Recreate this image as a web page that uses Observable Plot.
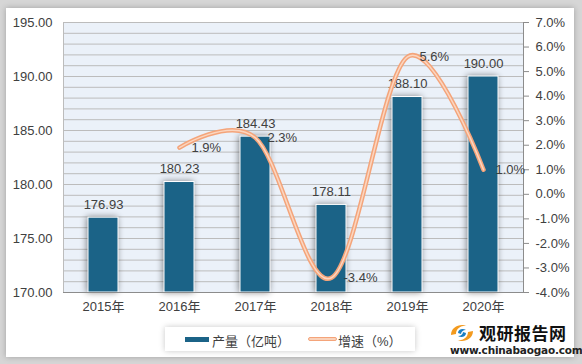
<!DOCTYPE html>
<html>
<head>
<meta charset="utf-8">
<script src="https://cdn.jsdelivr.net/npm/d3@7"></script>
<script src="https://cdn.jsdelivr.net/npm/@observablehq/plot@0.6"></script>
<style>
  html, body { margin: 0; padding: 0; }
  body { width: 582px; height: 364px; overflow: hidden; background: #d6d6d6; font-family: "Liberation Sans", "Noto Sans CJK SC", sans-serif; }
  #wrap { position: relative; width: 582px; height: 364px; }
  #card { position: absolute; left: 6px; top: 8px; width: 568px; height: 349px; background: #fff; box-shadow: 0 0 6px rgba(0,0,0,0.25); }
  .layer { position: absolute; left: 0; top: 0; }
  .layer svg { display: block; background: transparent; }
  .bars rect { filter: drop-shadow(-1px 0px 3px rgba(0,0,0,0.45)); }
  #legend { position: absolute; left: 165px; top: 327px; width: 250px; height: 24px; background: #fff; box-shadow: 0 0 6px rgba(0,0,0,0.22); font-size: 13px; color: #404040; }
  .sw-bar { position: absolute; left: 20px; top: 10px; width: 24px; height: 5px; background: #1b6387; }
  .sw-line { position: absolute; left: 143px; top: 10px; width: 29px; height: 4px; background: #fad2ba; border: 1px solid #f4a47a; border-radius: 3px; box-sizing: border-box; }
  .lt1 { position: absolute; left: 47px; top: 4px; }
  .lt2 { position: absolute; left: 173px; top: 4px; }
  #logo { position: absolute; left: 448px; top: 320px; width: 120px; height: 40px; }
  #logo .name { position: absolute; left: 31px; top: 0px; font-size: 17px; font-weight: bold; color: #111; letter-spacing: 0.5px; font-family: "Noto Sans CJK SC", sans-serif; }
  #logo .url { position: absolute; left: 2px; top: 24px; font-size: 10.5px; font-weight: bold; color: #222; font-family: "DejaVu Sans", sans-serif; letter-spacing: -0.2px; }
</style>
</head>
<body>
<div id="wrap">
  <div id="card"></div>
  <div id="p1" class="layer"></div>
  <div id="p2" class="layer"></div>
  <div id="legend">
    <div class="sw-bar"></div><div class="lt1">产量（亿吨）</div>
    <div class="sw-line"></div><div class="lt2">增速（%）</div>
  </div>
  <div id="logo">
    <svg width="28" height="22" style="position:absolute;left:0;top:2px" viewBox="0 0 28 22">
      <path d="M3 13 C3 5 12 1 19 4 C14 3 8 6 8 12 Z" fill="#f39a1e"/>
      <path d="M25 9 C25 17 16 21 9 18 C14 19 20 16 20 10 Z" fill="#f39a1e"/>
      <path d="M10 11 C10 7 15 6 18 8 C15 8 13 10 13 12 Z" fill="#1b7fc4"/>
      <path d="M18 11 C18 15 13 16 10 14 C13 14 15 12 15 10 Z" fill="#1b7fc4"/>
    </svg>
    <div class="name">观研报告网</div>
    <div class="url">www.chinabaogao.com</div>
  </div>
</div>
<script>
// ---- data ----
const years = ["2015年", "2016年", "2017年", "2018年", "2019年", "2020年"];
const output = [176.93, 180.23, 184.43, 178.11, 188.10, 190.00];
const growthYears = ["2016年", "2017年", "2018年", "2019年", "2020年"];
const growth = [1.9, 2.3, -3.4, 5.6, 1.0];
const leftTicks = [170, 175, 180, 185, 190, 195];
const gridTicks = [170,171,172,173,174,175,176,177,178,179,180,181,182,183,184,185,186,187,188,189,190,191,192,193,194,195];
const rightTicks = [-4, -3, -2, -1, 0, 1, 2, 3, 4, 5, 6, 7];

const barData = years.map((y, i) => ({year: y, value: output[i]}));
const lineData = growthYears.map((y, i) => ({year: y, value: growth[i]}));

const common = {
  width: 582, height: 364,
  marginLeft: 63, marginRight: 59, marginTop: 22, marginBottom: 72,
  style: {fontSize: "13px", fontFamily: "'Liberation Sans', 'Noto Sans CJK SC', sans-serif", color: "#404040", background: "transparent", overflow: "visible"}
};
const xOpts = {domain: years, paddingInner: 0.61, paddingOuter: 0.305, axis: null, label: null};

const p1 = Plot.plot({
  ...common,
  x: xOpts,
  y: {domain: [170, 195], axis: null, label: null},
  marks: [
    Plot.frame({fill: "#ebf1f9", stroke: null}),
    Plot.gridY(gridTicks, {stroke: "#bcbcbc", strokeOpacity: 1, strokeWidth: 1}),
    Plot.frame({anchor: "left", stroke: "#bcbcbc"}),
    Plot.barY(barData, {x: "year", y1: () => 170, y2: "value", fill: "#1b6387", stroke: "#ffffff", strokeWidth: 1, className: "bars"}),
    Plot.ruleY([170], {stroke: "#8c8c8c"}),
    Plot.text(barData, {x: "year", y: "value", text: d => d.value.toFixed(2), dy: -13, fill: "#404040", fontSize: 13}),
    Plot.axisY(leftTicks, {anchor: "left", tickSize: 0, tickPadding: 11, tickFormat: d => d.toFixed(2), fill: "#404040", label: null}),
    Plot.axisX({anchor: "bottom", tickSize: 0, tickPadding: 9, fill: "#404040", label: null})
  ]
});
document.getElementById("p1").appendChild(p1);

const p2 = Plot.plot({
  ...common,
  x: xOpts,
  y: {domain: [-4, 7], axis: null, label: null},
  marks: [
    Plot.frame({anchor: "right", stroke: "#8c8c8c"}),
    Plot.axisY(rightTicks, {anchor: "right", tickSize: 5, tickPadding: 7, stroke: "#8c8c8c", fill: "#404040", tickFormat: d => d.toFixed(1) + "%", label: null}),
    Plot.line(lineData, {x: "year", y: "value", curve: "cardinal", tension: 0, stroke: "#f4a47a", strokeWidth: 4.5}),
    Plot.line(lineData, {x: "year", y: "value", curve: "cardinal", tension: 0, stroke: "#fbd6c0", strokeWidth: 1.5}),
    Plot.text(lineData, {x: "year", y: "value", text: d => d.value.toFixed(1) + "%", dx: 12, textAnchor: "start", fill: "#404040", fontSize: 13})
  ]
});
document.getElementById("p2").appendChild(p2);
</script>
</body>
</html>
